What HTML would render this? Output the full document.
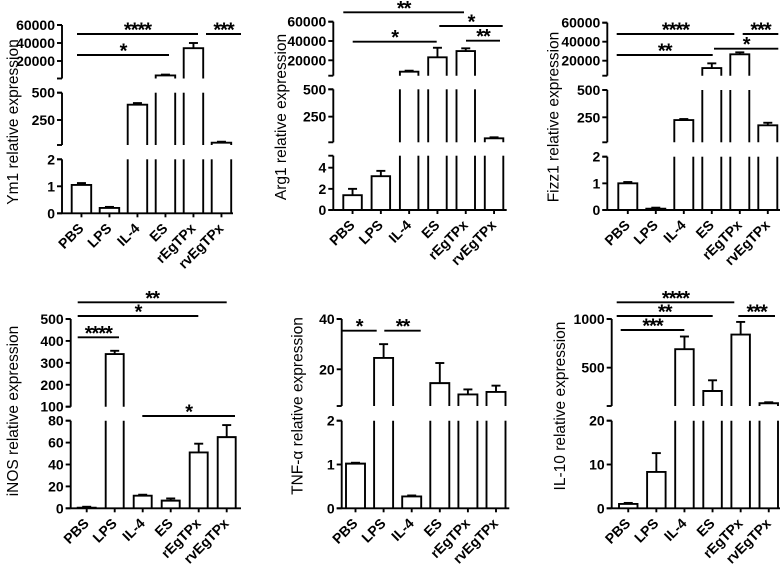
<!DOCTYPE html>
<html><head><meta charset="utf-8"><style>
html,body{margin:0;padding:0;background:#fff;}
svg{display:block;font-family:"Liberation Sans",Arial,sans-serif;}
</style></head><body>
<svg id="fig" width="784" height="565" viewBox="0 0 784 565" xmlns="http://www.w3.org/2000/svg"></svg>
<script>
const categories = ["PBS","LPS","IL-4","ES","rEgTPx","rvEgTPx"];
const ym1Values = [1.05, 0.2, 390, 4000, 34200, 42];
const ym1Errors = [0.07, 0.02, 15, 900, 5800, 3];
const arg1Values = [1.4, 3.2, 8200, 23100, 29600, 52];
const arg1Errors = [0.6, 0.5, 300, 9900, 2800, 3];
const fizz1Values = [1.0, 0.05, 225, 12300, 26700, 177];
const fizz1Errors = [0.05, 0.01, 5, 4900, 2100, 23];
const inosValues = [0.5, 340, 11.5, 7, 51, 65];
const inosErrors = [0.1, 15, 0.5, 2, 8, 11];
const tnfValues = [1.02, 24.5, 0.27, 14.5, 10, 11];
const tnfErrors = [0.02, 5.5, 0.01, 8, 2, 2.5];
const il10Values = [1.0, 8.3, 690, 260, 840, 134];
const il10Errors = [0.1, 4.3, 130, 110, 130, 3];

const panels = [
 {name:"ym1", label:"Ym1 relative expression", labelX:13, labelY:122, axisX:62, axisEnd:233, bar0:71.7, step:28, bw:19.5,
  values:ym1Values, errors:ym1Errors,
  segs:[{vA:0,yA:213.3,vB:2,yB:159.3,top:159.3,bot:213.3,ticks:[0,1,2]},
        {vA:0,yA:147.3,vB:500,yB:92.7,top:92.7,bot:145,ticks:[250,500]},
        {vA:0,yA:79,vB:60000,yB:25,top:25,bot:78.5,ticks:[20000,40000,60000]}],
  sig:[{x1:77,x2:198,y:34,t:"****"},{x1:77,x2:169,y:55,t:"*"},{x1:206,x2:241,y:34,t:"***"}]},
 {name:"arg1", label:"Arg1 relative expression", labelX:281, labelY:117, axisX:333.3, axisEnd:506.7, bar0:343.3, step:28.3, bw:18.5,
  values:arg1Values, errors:arg1Errors,
  segs:[{vA:0,yA:210,vB:4,yB:167.7,top:155.7,bot:210,ticks:[0,2,4]},
        {vA:0,yA:144,vB:500,yB:89.3,top:89.3,bot:142.3,ticks:[250,500]},
        {vA:0,yA:79.6,vB:60000,yB:21.7,top:21.7,bot:75.7,ticks:[20000,40000,60000]}],
  sig:[{x1:343.3,x2:464,y:12.3,t:"**"},{x1:352.7,x2:436.7,y:41.7,t:"*"},{x1:439.3,x2:502.7,y:26,t:"*"},{x1:466,x2:500,y:40.7,t:"**"}]},
 {name:"fizz1", label:"Fizz1 relative expression", labelX:553.3, labelY:117, axisX:607.3, axisEnd:780, bar0:618.3, step:28, bw:19,
  values:fizz1Values, errors:fizz1Errors,
  segs:[{vA:0,yA:210,vB:2,yB:156.7,top:156.7,bot:210,ticks:[0,1,2]},
        {vA:0,yA:144.6,vB:500,yB:90,top:90,bot:142.3,ticks:[250,500]},
        {vA:0,yA:79.7,vB:60000,yB:22.7,top:22.7,bot:75.7,ticks:[20000,40000,60000]}],
  sig:[{x1:616.7,x2:734.3,y:34,t:"****"},{x1:616.7,x2:712.7,y:55,t:"**"},{x1:742.7,x2:778.3,y:34,t:"***"},{x1:714,x2:778.3,y:48.7,t:"*"}]},
 {name:"inos", label:"iNOS relative expression", labelX:13, labelY:411, axisX:70.7, axisEnd:241, bar0:77.7, step:28, bw:18,
  values:inosValues, errors:inosErrors,
  segs:[{vA:0,yA:508.3,vB:80,yB:420.7,top:420.7,bot:508.3,ticks:[0,20,40,60,80]},
        {vA:100,yA:406.7,vB:500,yB:319,top:319,bot:406.7,ticks:[100,200,300,400,500]}],
  sig:[{x1:77.7,x2:226.7,y:302.3,t:"**"},{x1:77.7,x2:198.3,y:316,t:"*"},{x1:77.7,x2:119,y:337.3,t:"****"},{x1:142.3,x2:235,y:416,t:"*"}]},
 {name:"tnf", label:"TNF-α relative expression", labelX:297.3, labelY:406, axisX:341.7, axisEnd:509.3, bar0:346, step:28.1, bw:19,
  values:tnfValues, errors:tnfErrors,
  segs:[{vA:0,yA:508.3,vB:2,yB:420.7,top:420.7,bot:508.3,ticks:[0,1,2]},
        {vA:0,yA:419.6,vB:40,yB:319,top:319,bot:406,ticks:[20,40]}],
  sig:[{x1:341.7,x2:376.7,y:330.7,t:"*"},{x1:384.3,x2:420.7,y:330.7,t:"**"}]},
 {name:"il10", label:"IL-10 relative expression", labelX:560, labelY:406, axisX:611.7, axisEnd:780, bar0:619, step:28.1, bw:18.5,
  values:il10Values, errors:il10Errors,
  segs:[{vA:0,yA:508.3,vB:20,yB:420.7,top:420.7,bot:508.3,ticks:[0,10,20]},
        {vA:0,yA:416.3,vB:1000,yB:319,top:319,bot:406,ticks:[500,1000]}],
  sig:[{x1:616.7,x2:734.3,y:302.3,t:"****"},{x1:616.7,x2:712.7,y:316,t:"**"},{x1:620.7,x2:684.3,y:330,t:"***"},{x1:738.3,x2:775,y:316,t:"***"}]}
];

const NS="http://www.w3.org/2000/svg";
const svg=document.getElementById("fig");
function mk(tag,attrs,parent){const e=document.createElementNS(NS,tag);for(const k in attrs)e.setAttribute(k,attrs[k]);parent.appendChild(e);return e;}
function line(p,x1,y1,x2,y2){return mk("line",{x1:x1,y1:y1,x2:x2,y2:y2,stroke:"#000","stroke-width":1.9},p);}

panels.forEach(P=>{
  const g=mk("g",{},svg);
  
  
  const lbl=mk("text",{x:0,y:0,"font-size":15.5,"text-anchor":"middle",transform:`translate(${P.labelX+5},${P.labelY}) rotate(-90)`},g);
  lbl.textContent=P.label;
  
  
  const base=P.segs[0];
  const xa=line(g,P.axisX,base.bot,P.axisEnd,base.bot);
  
  
  P.segs.forEach(S=>{
    const sc=v=>S.yA+(v-S.vA)*(S.yB-S.yA)/(S.vB-S.vA);
    const ax=line(g,P.axisX,S.top,P.axisX,S.bot);
    
    
    line(g,P.axisX-5,S.top,P.axisX,S.top);
    line(g,P.axisX-5,S.bot,P.axisX,S.bot);
    S.ticks.forEach(t=>{
      const y=sc(t);
      line(g,P.axisX-5,y,P.axisX,y);
      const tx=mk("text",{x:P.axisX-7,y:y+5,"font-size":14,"font-weight":"bold","text-anchor":"end"},g);
      tx.textContent=String(t);
      
      
    });
    const vTop=S.vA+(S.top-S.yA)*(S.vB-S.vA)/(S.yB-S.yA);
    const vBot=S===base?-Infinity:S.vA+(S.bot-S.yA)*(S.vB-S.vA)/(S.yB-S.yA);
    P.values.forEach((v,i)=>{
      if(v<vBot) return;
      const x=P.bar0+i*P.step, w=P.bw;
      if(v>=vTop){
        const a=line(g,x,S.bot,x,S.top);
        
        
        line(g,x+w,S.bot,x+w,S.top);
      } else {
        const yv=sc(v);
        const r=mk("path",{d:`M${x},${S.bot}V${yv}H${x+w}V${S.bot}`,fill:"none",stroke:"#000","stroke-width":1.9},g);
        
        
        const ye=Math.max(sc(v+P.errors[i]),S.top-2);
        if(yv-ye>0.8){
          const cx=x+w/2;
          const e=line(g,cx,yv,cx,ye);
          
          
          line(g,cx-4.5,ye,cx+4.5,ye);
        } else {
          line(g,x+w/2-4.5,yv-1,x+w/2+4.5,yv-1);
        }
      }
    });
  });
  categories.forEach((c,i)=>{
    const cx=P.bar0+i*P.step+P.bw/2;
    line(g,cx,base.bot,cx,base.bot+4);
    const t=mk("text",{x:0,y:0,"font-size":14,"font-weight":"bold","text-anchor":"end",transform:`translate(${cx+3},${base.bot+16}) rotate(-45)`},g);
    t.textContent=c;
    
    
  });
  P.sig.forEach(s=>{
    const l=line(g,s.x1,s.y,s.x2,s.y);
    
    
    const t=mk("text",{x:(s.x1+s.x2)/2,y:s.y+2.5,"font-size":20,"font-weight":"bold","text-anchor":"middle","letter-spacing":"-1"},g);
    t.textContent=s.t;
    
    
  });
});
</script>
</body></html>
